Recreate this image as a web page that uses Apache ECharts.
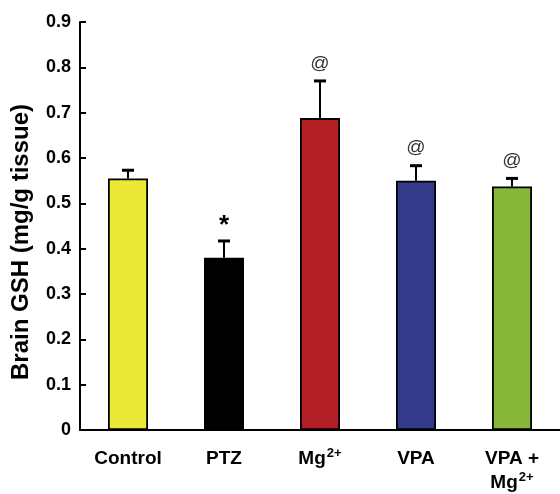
<!DOCTYPE html>
<html><head><meta charset="utf-8">
<script src="https://cdn.jsdelivr.net/npm/echarts@6/dist/echarts.min.js"></script>
<style>html,body{margin:0;padding:0;background:#fff}#c{width:560px;height:494px}</style>
</head><body><div id="c"></div>
<script>
var categories = ['Control', 'PTZ', 'Mg2+', 'VPA', 'VPA + Mg2+'];
var means = [0.555, 0.38, 0.688, 0.55, 0.537];
var errors = [0.018, 0.037, 0.082, 0.033, 0.018];
var marks = ['', '*', '@', '@', '@'];
var colors = ['#ebe936', '#000000', '#b11f24', '#343a8c', '#88b83a'];
var yTicks = [0, 0.1, 0.2, 0.3, 0.4, 0.5, 0.6, 0.7, 0.8, 0.9];
var yTitle = 'Brain GSH (mg/g tissue)';

var labelText = {
  'Control': '{n|Control}',
  'PTZ': '{n|PTZ}',
  'Mg2+': '{n|Mg}{s|2+}',
  'VPA': '{n|VPA}',
  'VPA + Mg2+': '{n|VPA +}\n{n|Mg}{s|2+}'
};

var chart = echarts.init(document.getElementById('c'));
var sans = '"Liberation Sans", Arial, sans-serif';
chart.setOption({
  animation: false,
  grid: { left: 80, right: 0, top: 22, bottom: 58 },
  graphic: [{
    type: 'text',
    x: 21, y: 242,
    rotation: Math.PI / 2,
    style: {
      text: yTitle,
      align: 'center', verticalAlign: 'middle',
      font: 'bold 24px "Liberation Sans", Arial, sans-serif',
      fill: '#000'
    }
  }],
  xAxis: {
    type: 'category',
    data: categories,
    axisLine: { lineStyle: { color: '#000', width: 2 } },
    axisTick: { show: false },
    axisLabel: {
      margin: 17,
      interval: 0,
      formatter: function (v) { return labelText[v]; },
      rich: {
        n: { fontFamily: sans, fontWeight: 'bold', fontSize: 19, color: '#000', lineHeight: 24 },
        s: { fontFamily: sans, fontWeight: 'bold', fontSize: 13, color: '#000', verticalAlign: 'top', lineHeight: 24, padding: [0, 0, 10, 1] }
      }
    }
  },
  yAxis: {
    type: 'value',
    min: 0, max: 0.9, interval: 0.1,
    splitLine: { show: false },
    axisLine: { show: true, lineStyle: { color: '#000', width: 2 } },
    axisTick: { show: true, inside: true, length: 6, lineStyle: { color: '#000', width: 2 } },
    axisLabel: {
      margin: 9,
      fontFamily: sans, fontWeight: 'bold', fontSize: 18, color: '#000',
      formatter: function (v) { var t = yTicks.find(function (k) { return Math.abs(k - v) < 1e-9; }); return t === 0 ? '0' : t.toFixed(1); }
    }
  },
  series: [
    {
      type: 'bar',
      data: means.map(function (m, i) { return { value: m, itemStyle: { color: colors[i] } }; }),
      barWidth: 40,
      itemStyle: { borderColor: '#000', borderWidth: 1.8 },
      z: 2
    },
    {
      type: 'custom',
      data: means.map(function (m, i) { return [i, m, m + errors[i]]; }),
      z: 3,
      renderItem: function (params, api) {
        var i = api.value(0);
        var b = api.coord([i, api.value(1)]);
        var t = api.coord([i, api.value(2)]);
        var children = [
          { type: 'line', shape: { x1: b[0], y1: b[1], x2: t[0], y2: t[1] }, style: { stroke: '#000', lineWidth: 2 } },
          { type: 'line', shape: { x1: t[0] - 6, y1: t[1], x2: t[0] + 6, y2: t[1] }, style: { stroke: '#000', lineWidth: 3 } }
        ];
        var mk = marks[params.dataIndex];
        if (mk) {
          children.push({
            type: 'text',
            style: {
              text: mk,
              x: t[0], y: t[1] - (mk === '*' ? 2 : 8),
              align: 'center', verticalAlign: 'bottom',
              font: mk === '*' ? 'bold 26px "Liberation Sans", Arial, sans-serif' : '19px "Liberation Sans", Arial, sans-serif',
              fill: mk === '*' ? '#000' : '#333'
            }
          });
        }
        return { type: 'group', children: children };
      }
    }
  ]
});
</script></body></html>
